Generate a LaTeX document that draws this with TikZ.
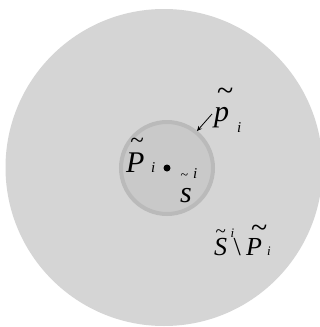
\documentclass[tikz,border=0pt]{standalone}
\usepackage{fontspec}
\setmainfont{Liberation Serif}
\usetikzlibrary{arrows.meta}
\definecolor{outerg}{RGB}{213,213,213}
\definecolor{innerg}{RGB}{201,201,201}
\definecolor{ringg}{RGB}{186,186,186}
% \tildeover{tilde size}{dx}{raise}{letter}
\newcommand{\tildeover}[4]{\makebox[0pt][l]{\hspace*{#2}\raisebox{#3}{\fontsize{#1}{#1}\selectfont\upshape\textasciitilde}}#4}
\tikzset{
  lab/.style={inner sep=0pt, anchor=base west, text=black},
  it/.style={lab, font=\fontsize{#1}{#1}\selectfont\itshape},
  up/.style={lab, font=\fontsize{#1}{#1}\selectfont},
  tl/.style={inner sep=0pt, anchor=base, text=black, font=\fontsize{#1}{#1}\selectfont},
}
\begin{document}
\begin{tikzpicture}[x=1pt,y=-1pt]
\useasboundingbox (0,0) rectangle (320,327);
\fill[white] (0,0) rectangle (320,327);
\begin{scope}
\clip (0,0) rectangle (320,327);
\fill[outerg] (164,167.5) circle[radius=158.5];
\end{scope}
\draw[ringg, fill=innerg, line width=4pt] (167,168) circle[radius=46];
\fill[black] (167,168) circle[radius=3.5] coordinate (s);
% P tilde i
\node[it=30] (P) at (126,172) {\tildeover{25}{4.25pt}{24pt}{P}};
\node[it=15] (Pi) at (151,172) {i};
% s tilde i
\node[tl=14] (st) at (184.5,179) {\textasciitilde};
\node[it=15] (si) at (193,178) {i};
\node[it=30] (ss) at (180,202) {s};
% p tilde i
\node[it=30] (p) at (214,121) {\tildeover{30}{2.9pt}{21pt}{p}};
\node[it=15] (pi) at (237,132) {i};
\coordinate (atip) at (197,131);
\draw[black, line width=0.8pt, -{Stealth[length=5pt,width=4.5pt]}] (212,114) -- (atip);
% S tilde ^i \ P tilde _i
\node[it=26] (S) at (214,255) {\tildeover{19}{1.4pt}{18pt}{S}};
\node[it=13] (Si) at (230.5,237) {i};
\node[up=26] (bs) at (233.5,255) {\textbackslash};
\node[it=26] (P2) at (246,255) {\tildeover{30}{4.9pt}{18pt}{P}};
\node[it=13] (P2i) at (267,255) {i};
\end{tikzpicture}
\end{document}
